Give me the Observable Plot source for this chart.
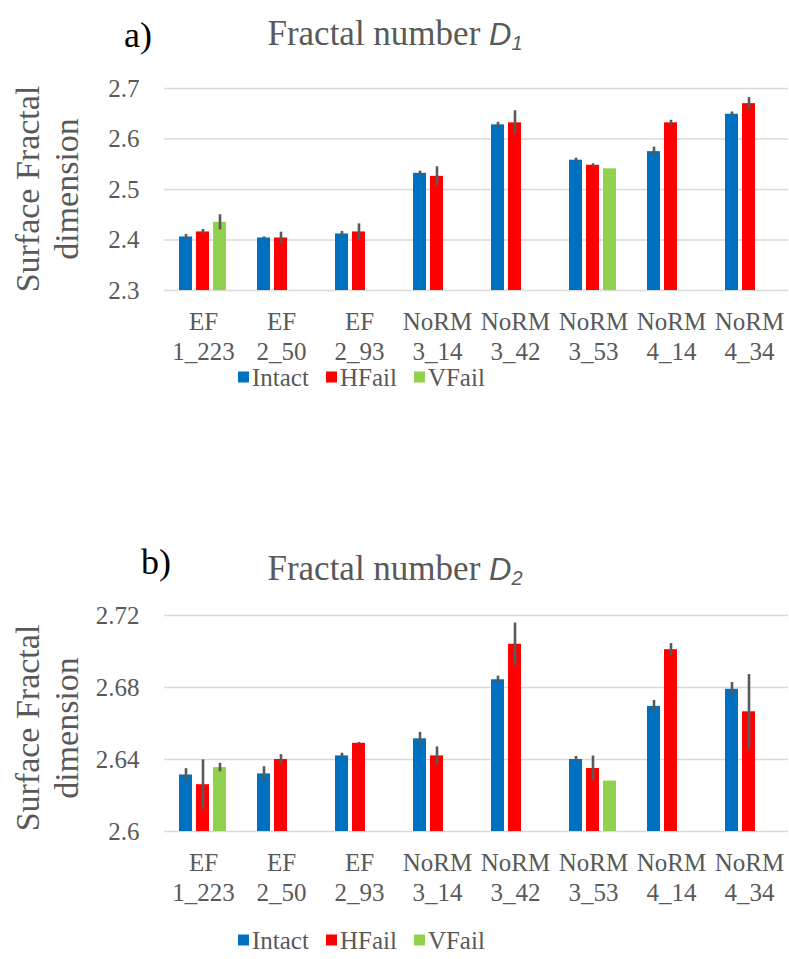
<!DOCTYPE html>
<html>
<head>
<meta charset="utf-8">
<script src="https://cdn.jsdelivr.net/npm/d3@7"></script>
<script src="https://cdn.jsdelivr.net/npm/@observablehq/plot@0.6"></script>
<style>
  html, body { margin: 0; padding: 0; background: #fff; }
  #root { position: relative; width: 789px; height: 959px; overflow: hidden;
          font-family: "Liberation Serif", Tinos, "Times New Roman", Times, "DejaVu Serif", serif; color: #595959; }
  .abs { position: absolute; line-height: 1; white-space: nowrap; }
  .panel { position: absolute; left: 0; }
  .title { font-size: 35px; transform: translateX(-50%); }
  .title i { font-family: "Liberation Sans", Arial, sans-serif; font-size: 31px; }
  .title sub { font-size: 20px; vertical-align: -5px; }
  .tag { font-size: 36px; color: #000; }
  .ylab { font-size: 34px; line-height: 39px; text-align: center;
          transform: translate(-50%, -50%) rotate(-90deg); }
  .legend { display: flex; align-items: center; font-size: 25px; transform: translateY(-50%); }
  .legend .sw { display: inline-block; width: 11px; height: 11px; margin-right: 3px; }
  .legend .item { display: flex; align-items: center; margin-right: 17px; }
</style>
</head>
<body>
<div id="root"></div>
<script>
const categories = ["EF 1_223", "EF 2_50", "EF 2_93", "NoRM 3_14", "NoRM 3_42", "NoRM 3_53", "NoRM 4_14", "NoRM 4_34"];
const series = ["Intact", "HFail", "VFail"];
const seriesColors = ["#0070C0", "#FF0000", "#92D050"];

// Chart a) Fractal number D1
const d1Intact    = [2.406, 2.404, 2.412, 2.532, 2.628, 2.558, 2.575, 2.649];
const d1IntactErr = [0.005, 0.002, 0.005, 0.0045, 0.005, 0.004, 0.009, 0.0045];
const d1HFail     = [2.416, 2.404, 2.416, 2.526, 2.632, 2.548, 2.632, 2.670];
const d1HFailErr  = [0.005, 0.0115, 0.016, 0.019, 0.024, 0.003, 0.005, 0.012];
const d1VFail     = [2.435, null, null, null, null, 2.541, null, null];
const d1VFailErr  = [0.015, null, null, null, null, 0, null, null];
const d1Ticks     = [2.3, 2.4, 2.5, 2.6, 2.7];

// Chart b) Fractal number D2
const d2Intact    = [2.6314, 2.632, 2.642, 2.6515, 2.6843, 2.640, 2.6695, 2.679];
const d2IntactErr = [0.0035, 0.004, 0.0015, 0.0036, 0.002, 0.0017, 0.0033, 0.0038];
const d2HFail     = [2.626, 2.640, 2.649, 2.642, 2.704, 2.635, 2.701, 2.6665];
const d2HFailErr  = [0.0138, 0.0027, 0.0005, 0.005, 0.0118, 0.0069, 0.0034, 0.0207];
const d2VFail     = [2.6355, null, null, null, null, 2.628, null, null];
const d2VFailErr  = [0.0024, null, null, null, null, 0, null, null];
const d2Ticks     = [2.6, 2.64, 2.68, 2.72];

const serifStack = "'Liberation Serif', Tinos, 'Times New Roman', Times, 'DejaVu Serif', serif";

function rowsOf(vals, errs) {
  const rows = [];
  categories.forEach((cat, i) => {
    series.forEach((s, j) => {
      const v = vals[j][i];
      if (v != null) rows.push({cat, series: s, value: v, err: errs[j][i] || 0});
    });
  });
  return rows;
}

function makeChart(rows, ticks, opts) {
  const base = ticks[0];
  return Plot.plot({
    width: 789,
    height: opts.height,
    marginLeft: 163,
    marginRight: 0,
    marginTop: opts.marginTop,
    marginBottom: opts.marginBottom,
    style: {fontFamily: serifStack, fontSize: "25px", color: "#595959", background: "transparent", overflow: "visible"},
    fx: {domain: categories, paddingInner: 0, paddingOuter: 0, axis: null},
    x: {domain: series, paddingInner: 0.215, paddingOuter: 0.88, axis: null},
    y: {domain: [ticks[0], ticks[ticks.length - 1]], axis: null},
    color: {domain: series, range: seriesColors},
    marks: [
      Plot.gridY(ticks, {stroke: "#d9d9d9", strokeOpacity: 1, strokeWidth: 1.6}),
      Plot.barY(rows, {fx: "cat", x: "series", y1: () => base, y2: "value", fill: "series"}),
      Plot.ruleX(rows.filter(d => d.err > 0), {fx: "cat", x: "series", y1: d => d.value - d.err, y2: d => d.value + d.err, stroke: "#595959", strokeWidth: 2.6}),
      Plot.axisY(ticks, {tickSize: 0, tickPadding: 25, tickFormat: d => String(d), fontSize: 25, fontFamily: serifStack, label: null}),
      Plot.axisFx({anchor: "bottom", tickSize: 0, tickPadding: 18, lineHeight: 1.2, fontSize: 25, fontFamily: serifStack, tickFormat: d => d.replace(" ", "\n"), label: null})
    ]
  });
}

const root = document.getElementById("root");

function addPanel(top, rows, ticks, opts, tag, sub, titleBaseline, ylabCenter, legendY, tagX, tagBaseline) {
  const chart = makeChart(rows, ticks, opts);
  const wrap = document.createElement("div");
  wrap.className = "panel";
  wrap.style.top = top + "px";
  wrap.appendChild(chart);
  root.appendChild(wrap);

  const t = document.createElement("div");
  t.className = "abs title";
  t.style.left = "395px";
  t.style.top = (titleBaseline - 0.8375 * 35) + "px";
  t.innerHTML = "Fractal number <i>D<sub>" + sub + "</sub></i>";
  root.appendChild(t);

  const tg = document.createElement("div");
  tg.className = "abs tag";
  tg.style.left = tagX + "px";
  tg.style.top = (tagBaseline - 0.8375 * 36) + "px";
  tg.textContent = tag;
  root.appendChild(tg);

  const yl = document.createElement("div");
  yl.className = "abs ylab";
  yl.style.left = "46.5px";
  yl.style.top = ylabCenter + "px";
  yl.innerHTML = "Surface Fractal<br>dimension";
  root.appendChild(yl);

  const lg = document.createElement("div");
  lg.className = "abs legend";
  lg.style.left = "238px";
  lg.style.top = legendY + "px";
  series.forEach((s, i) => {
    const it = document.createElement("span");
    it.className = "item";
    it.innerHTML = '<span class="sw" style="background:' + seriesColors[i] + '"></span><span>' + s + '</span>';
    lg.appendChild(it);
  });
  root.appendChild(lg);
}

addPanel(0, rowsOf([d1Intact, d1HFail, d1VFail], [d1IntactErr, d1HFailErr, d1VFailErr]), d1Ticks,
  {height: 372, marginTop: 88, marginBottom: 82}, "a)", "1", 45, 189, 377, 124, 47);
addPanel(530, rowsOf([d2Intact, d2HFail, d2VFail], [d2IntactErr, d2HFailErr, d2VFailErr]), d2Ticks,
  {height: 383, marginTop: 85, marginBottom: 82}, "b)", "2", 580, 728, 940, 141, 574);
</script>
</body>
</html>
